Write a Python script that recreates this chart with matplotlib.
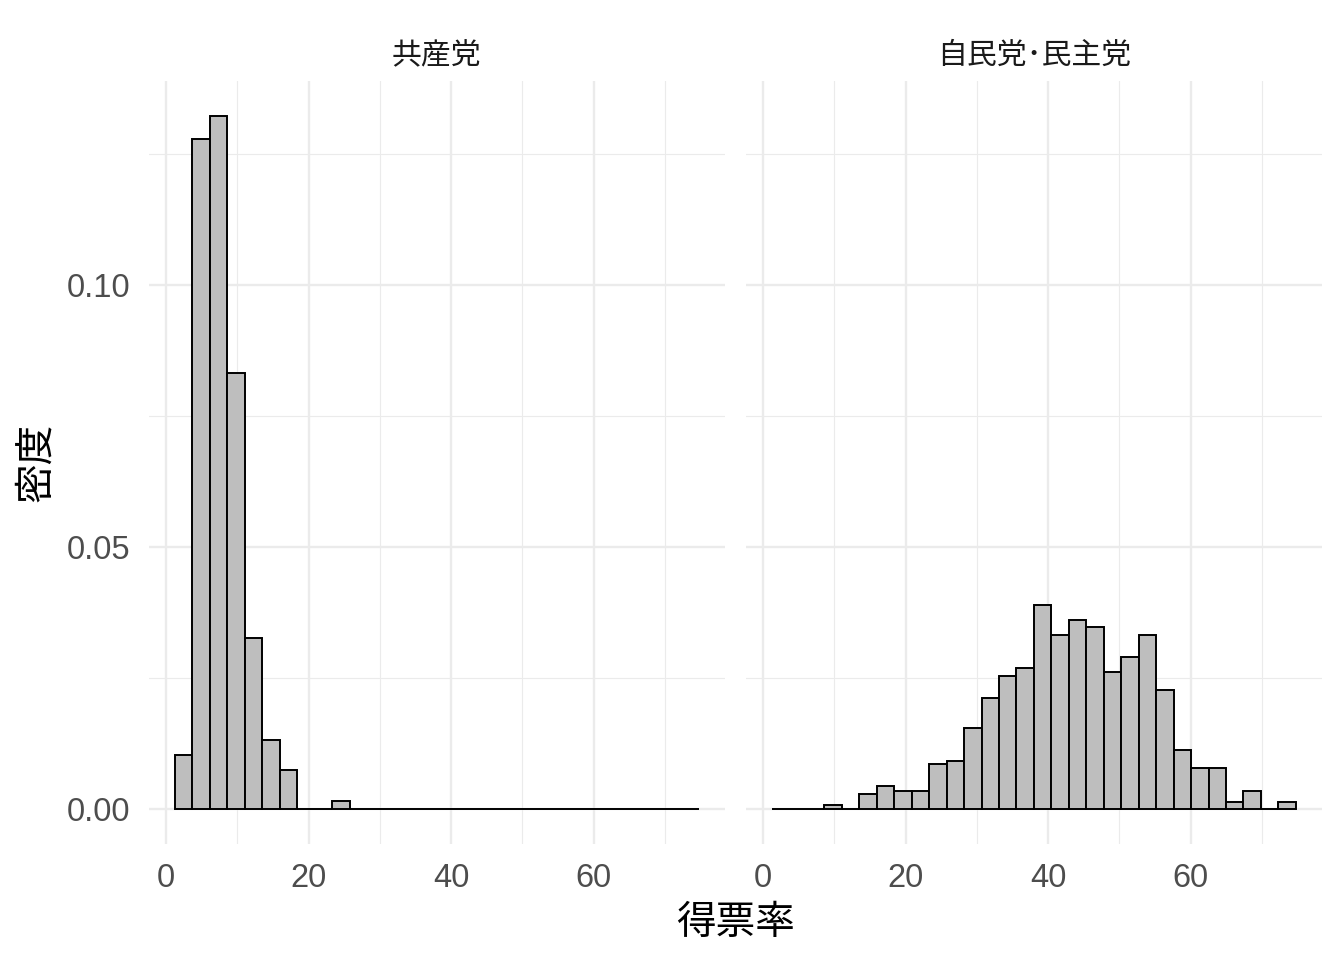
import numpy as np
import matplotlib
matplotlib.use("Agg")
import matplotlib.pyplot as plt

# ---- フォント（数字はArial系、日本語はNoto Sans CJK JP） ----
plt.rcParams['font.family'] = ['Liberation Sans', 'Noto Sans CJK JP']

# ---- データ（ヒストグラム：30ビン、密度） ----
bin_start = 1.26
bin_width = 2.45
n_bins = 30

panel_titles = ["共産党", "自民党･民主党"]

density_jcp = [0.0103, 0.1279, 0.1323, 0.0832, 0.0326, 0.0132, 0.0074, 0.0, 0.0, 0.0016,
               0.0, 0.0, 0.0, 0.0, 0.0, 0.0, 0.0, 0.0, 0.0, 0.0,
               0.0, 0.0, 0.0, 0.0, 0.0, 0.0, 0.0, 0.0, 0.0, 0.0]

density_ldp_dpj = [0.0, 0.0, 0.0, 0.00076, 0.0, 0.0029, 0.0043, 0.0035, 0.0035, 0.0085,
                   0.0092, 0.0155, 0.0212, 0.0254, 0.0269, 0.0390, 0.0333, 0.0361, 0.0348, 0.0262,
                   0.0291, 0.0333, 0.0228, 0.0113, 0.0079, 0.0079, 0.0014, 0.0035, 0.0, 0.0014]

x_ticks = [0, 20, 40, 60]
x_minor = [10, 30, 50, 70]
y_ticks = [0.0, 0.05, 0.10]
y_minor = [0.025, 0.075, 0.125]

# ---- 描画 ----
edges = bin_start + bin_width * np.arange(n_bins + 1)
lefts = edges[:-1]

x_lo, x_hi = edges[0], edges[-1]
x_pad = (x_hi - x_lo) * 0.05
y_hi = max(max(density_jcp), max(density_ldp_dpj))
y_pad = y_hi * 0.05

fig = plt.figure(figsize=(13.44, 9.6), dpi=100)
W, H = 1344, 960
panel_px = [(148.8, 725.0), (745.8, 1322.0)]
top_px, bot_px = 81.0, 843.7

grid_col = "#EBEBEB"
for i, (vals, title) in enumerate(zip([density_jcp, density_ldp_dpj], panel_titles)):
    l, r = panel_px[i]
    ax = fig.add_axes([l / W, 1 - bot_px / H, (r - l) / W, (bot_px - top_px) / H])
    ax.set_xlim(x_lo - x_pad, x_hi + x_pad)
    ax.set_ylim(-y_pad, y_hi + y_pad)

    # グリッド
    for v in x_minor:
        ax.axvline(v, color=grid_col, lw=0.8, zorder=0)
    for v in y_minor:
        ax.axhline(v, color=grid_col, lw=0.8, zorder=0)
    for v in x_ticks:
        ax.axvline(v, color=grid_col, lw=1.7, zorder=0)
    for v in y_ticks:
        ax.axhline(v, color=grid_col, lw=1.7, zorder=0)

    ax.bar(lefts, vals, width=bin_width, align="edge", color="#BEBEBE",
           edgecolor="black", linewidth=1.4, zorder=2)

    for s in ax.spines.values():
        s.set_visible(False)
    ax.set_xticks(x_ticks)
    ax.set_xticklabels([str(t) for t in x_ticks])
    ax.set_yticks(y_ticks)
    if i == 0:
        ax.set_yticklabels(["0.00", "0.05", "0.10"])
    else:
        ax.set_yticklabels([])
    ax.tick_params(axis="both", length=0, labelsize=23.5, colors="#4D4D4D")
    ax.tick_params(axis="x", pad=14)
    ax.tick_params(axis="y", pad=13)

    ax.text(0.5, 1 + (top_px - 56) / (bot_px - top_px), title,
            transform=ax.transAxes, ha="center", va="center",
            fontsize=21.5, color="#1A1A1A")

fig.text(736 / W, 1 - 923 / H, "得票率", ha="center", va="center", fontsize=28.5, color="black")
fig.text(36 / W, 1 - 462 / H, "密度", ha="center", va="center", rotation=90,
         fontsize=28.5, color="black")

fig.savefig("out.png", dpi=100, facecolor="white")
